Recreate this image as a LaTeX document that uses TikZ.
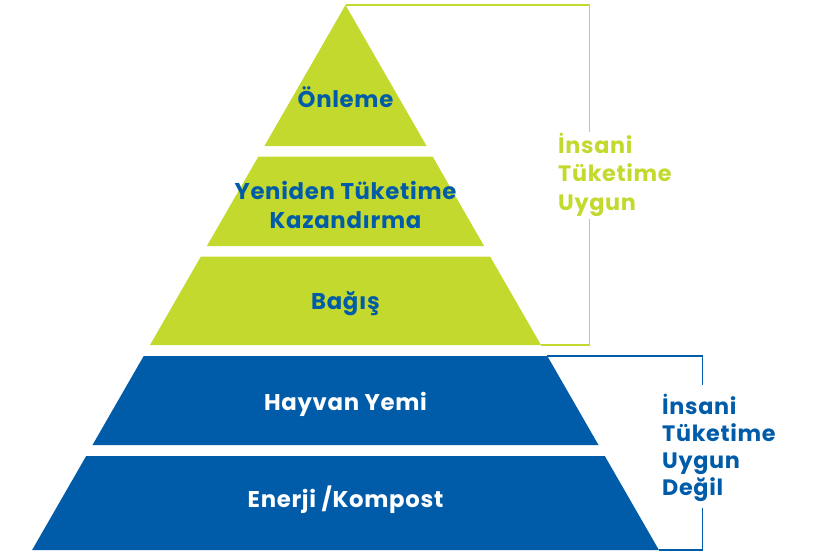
\documentclass[tikz,border=0pt]{standalone}
\usepackage{fontspec}
\setmainfont{Poppins}[LetterSpace=3]
\definecolor{pyrgreen}{HTML}{C3D92E}
\definecolor{pyrblue}{HTML}{005CA8}
\begin{document}
\begin{tikzpicture}[x=1pt,y=-1pt,
  layergreen/.style={fill=pyrgreen},
  layerblue/.style={fill=pyrblue},
  lbl/.style={font=\fontsize{22.8}{28}\selectfont\bfseries, inner sep=0pt, anchor=base},
  side/.style={font=\fontsize{22.3}{28}\selectfont\bfseries, inner sep=0pt, anchor=base west},
  brgreen/.style={draw=pyrgreen, line width=1.3pt},
  brblue/.style={draw=pyrblue, line width=1.2pt}]
\useasboundingbox (0,0) rectangle (814,552);
% pyramid layers
\path[layergreen] (345.5,5) -- (426.6,146) -- (264.4,146) -- cycle;
\path[layergreen] (258.4,156.5) -- (432.6,156.5) -- (484.1,246) -- (206.9,246) -- cycle;
\path[layergreen] (200.9,256.5) -- (490.1,256.5) -- (541,345) -- (150,345) -- cycle;
\path[layerblue] (143.7,356) -- (547.3,356) -- (598.5,445) -- (92.5,445) -- cycle;
\path[layerblue] (86.2,456) -- (604.8,456) -- (658.9,550) -- (32.1,550) -- cycle;
% coordinates for brackets
\coordinate (apex) at (345.5,5);
\coordinate (g1) at (589.3,5);
\coordinate (g2) at (589.3,131.5);
\coordinate (g3) at (589.3,219);
\coordinate (g4) at (589.3,345);
\coordinate (g5) at (541,345);
\coordinate (b0) at (547.3,356);
\coordinate (b1) at (702.5,356);
\coordinate (b2) at (702.5,385);
\coordinate (b3) at (702.5,508);
\coordinate (b4) at (702.5,550);
\coordinate (b5) at (658.9,550);
\draw[brgreen] (apex) -- (g1) -- (g2);
\draw[brgreen] (g3) -- (g4) -- (g5);
\draw[brblue] (b0) -- (b1) -- (b2);
\draw[brblue] (b3) -- (b4) -- (b5);
% pyramid labels
\node[lbl, text=pyrblue] (l1) at (345.5,107) {Önleme};
\node[lbl, text=pyrblue] (l2a) at (345.5,199) {Yeniden Tüketime};
\node[lbl, text=pyrblue] (l2b) at (345.5,228) {Kazandırma};
\node[lbl, text=pyrblue] (l3) at (345.5,309) {Bağış};
\node[lbl, text=white] (l4) at (345.5,410) {Hayvan Yemi};
\node[lbl, text=white] (l5) at (345.5,507.5) {Enerji /Kompost};
% side labels
\node[side, text=pyrgreen] (s1) at (558,153) {İnsani};
\node[side, text=pyrgreen] (s2) at (558,181) {Tüketime};
\node[side, text=pyrgreen] (s3) at (558,210) {Uygun};
\node[side, text=pyrblue] (t1) at (662,414.5) {İnsani};
\node[side, text=pyrblue] (t2) at (662,441.5) {Tüketime};
\node[side, text=pyrblue] (t3) at (662,468) {Uygun};
\node[side, text=pyrblue] (t4) at (662,495) {Değil};
\end{tikzpicture}
\end{document}
